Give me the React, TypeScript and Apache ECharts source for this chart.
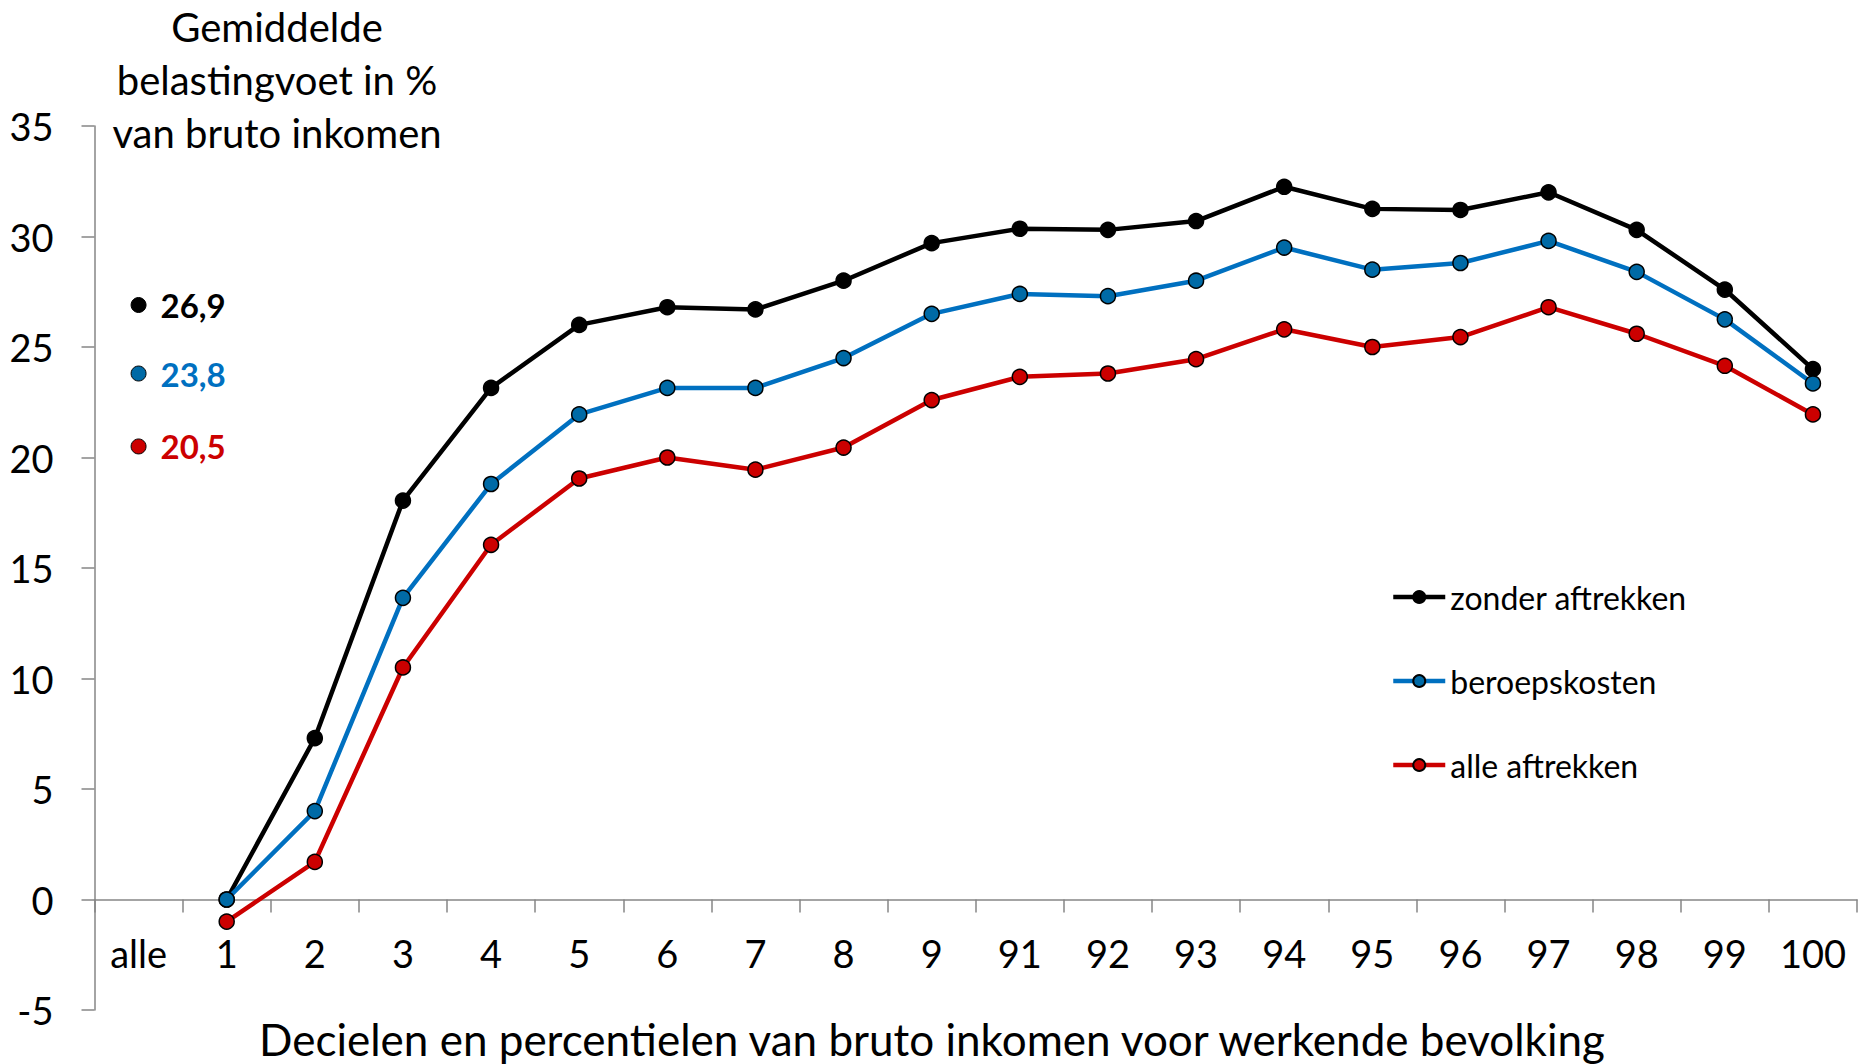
import React, { useEffect, useRef } from "react";
import * as echarts from "echarts";

const categories = ["alle", "1", "2", "3", "4", "5", "6", "7", "8", "9", "91", "92", "93", "94", "95", "96", "97", "98", "99", "100"];
const seriesNames = ["zonder aftrekken", "beroepskosten", "alle aftrekken"];
// values for categories 1 .. 100 (index 1..19)
const zonderAftrekken = [0, 7.3, 18.05, 23.15, 26.0, 26.8, 26.7, 28.0, 29.7, 30.35, 30.3, 30.7, 32.25, 31.25, 31.2, 32.0, 30.3, 27.6, 24.0];
const beroepskosten = [0, 4.0, 13.65, 18.8, 21.95, 23.15, 23.15, 24.5, 26.5, 27.4, 27.3, 28.0, 29.5, 28.5, 28.8, 29.8, 28.4, 26.25, 23.35];
const alleAftrekken = [-1.0, 1.7, 10.5, 16.05, 19.05, 20.0, 19.45, 20.45, 22.6, 23.65, 23.8, 24.45, 25.8, 25.0, 25.45, 26.8, 25.6, 24.15, 21.95];
// values for category "alle"
const alleValues = [26.9, 23.8, 20.5];
const yTicks = { min: -5, max: 35, interval: 5 };
const titleLines = ["Gemiddelde", "belastingvoet in %", "van bruto inkomen"];
const xAxisTitle = "Decielen en percentielen van bruto inkomen voor werkende bevolking";

const FONT = "Lato";
const lineColors = ["#000000", "#0070C0", "#CC0000"];
const markerFills = ["#000000", "#006AA6", "#CC0000"];

export default function App() {
  const ref = useRef<HTMLDivElement>(null);
  useEffect(() => {
    if (!ref.current) return;
    const chart = echarts.init(ref.current, null, { renderer: "svg" });
    const lineData = [zonderAftrekken, beroepskosten, alleAftrekken];
    const lineSeries = lineData.map((vals, si) => ({
      name: seriesNames[si],
      type: "line",
      data: categories.slice(1).map((c, i) => [c, vals[i]]),
      symbol: "circle",
      symbolSize: 15,
      lineStyle: { color: lineColors[si], width: 4.5 },
      itemStyle: { color: markerFills[si], borderColor: "#000", borderWidth: 1.5, opacity: 1 },
      z: 2 + si,
    }));
    const alleSeries = alleValues.map((v, si) => ({
      name: "alle-" + si,
      type: "scatter",
      data: [[categories[0], v]],
      symbol: "circle",
      symbolSize: 15,
      itemStyle: { color: markerFills[si], borderColor: "#000", borderWidth: 1, opacity: 1 },
      label: {
        show: true,
        position: "right",
        distance: 14,
        formatter: (p: any) => String(p.value[1]).replace(".", ","),
        fontFamily: FONT,
        fontWeight: "bold",
        fontSize: 33,
        color: lineColors[si],
      },
    }));
    chart.setOption({
      animation: false,
      backgroundColor: "#fff",
      grid: { left: 94.5, right: 1, top: 126, bottom: 54, containLabel: false, outerBoundsMode: "none" },
      legend: {
        data: seriesNames.map((n) => ({ name: n })),
        orient: "vertical",
        left: 1386,
        top: 576,
        itemWidth: 52,
        itemHeight: 15,
        itemGap: 52,
        lineStyle: { width: 4.5 },
        textStyle: { fontFamily: FONT, fontSize: 32, color: "#000", lineHeight: 30 },
      },
      xAxis: {
        type: "category",
        data: categories,
        boundaryGap: true,
        axisLine: { onZero: true, lineStyle: { color: "#868686", width: 1.5 } },
        axisTick: { show: true, length: 13, alignWithLabel: false, lineStyle: { color: "#868686", width: 1.5 } },
        axisLabel: { margin: -76, fontFamily: FONT, fontSize: 38, color: "#000", interval: 0, verticalAlign: "top" },
        splitLine: { show: false },
      },
      yAxis: {
        type: "value",
        min: yTicks.min,
        max: yTicks.max,
        interval: yTicks.interval,
        axisLine: { show: true, onZero: false, lineStyle: { color: "#868686", width: 1.5 } },
        axisTick: { show: true, length: 13, inside: false, lineStyle: { color: "#868686", width: 1.5 } },
        axisLabel: { margin: 41, fontFamily: FONT, fontSize: 38, color: "#000" },
        splitLine: { show: false },
      },
      graphic: [
        {
          type: "text",
          x: 277,
          y: 0,
          style: {
            text: titleLines.join("\n"),
            fontFamily: FONT,
            fontSize: 40,
            lineHeight: 53,
            fill: "#000",
            textAlign: "center",
            textVerticalAlign: "top",
          },
        },
        {
          type: "text",
          x: 932,
          y: 1039,
          style: {
            text: xAxisTitle,
            fontFamily: FONT,
            fontSize: 44,
            lineHeight: 44,
            fill: "#000",
            textAlign: "center",
            textVerticalAlign: "middle",
          },
        },
      ],
      series: [...lineSeries, ...alleSeries],
    });
    return () => chart.dispose();
  }, []);
  return <div ref={ref} style={{ position: "absolute", left: 0, top: 0, width: 1858, height: 1064 }} />;
}
